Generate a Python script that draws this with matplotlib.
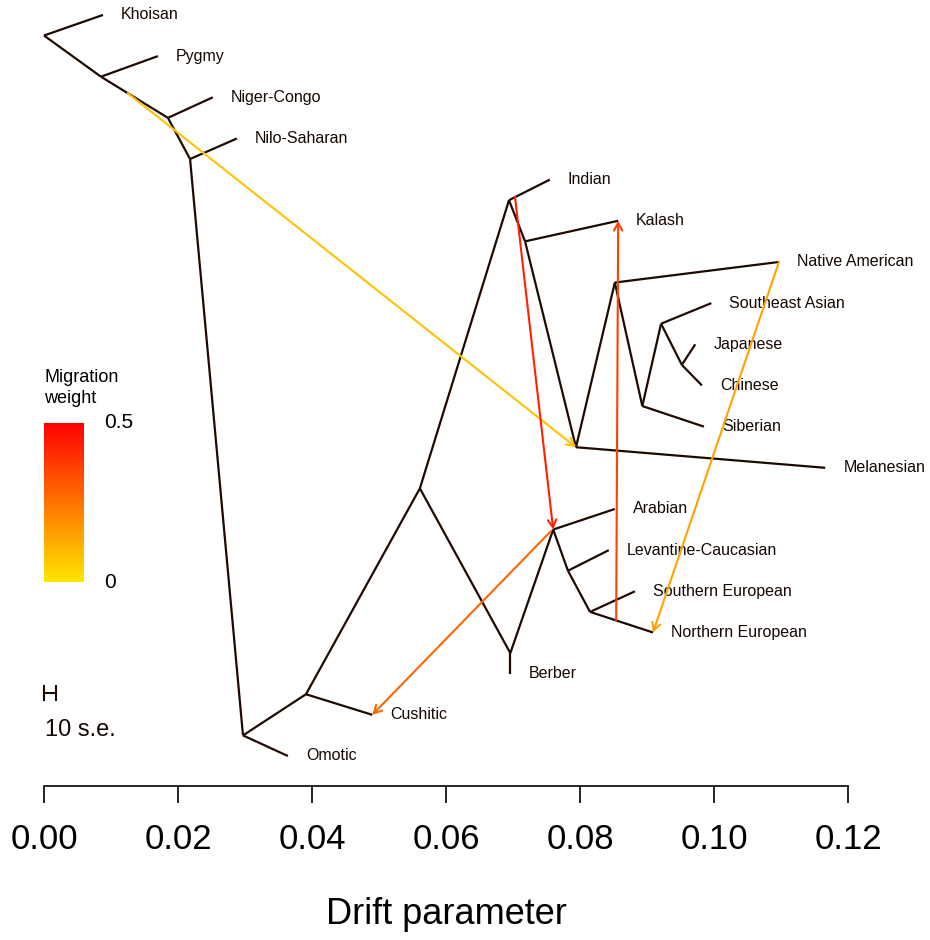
import matplotlib
matplotlib.use('Agg')
import matplotlib.pyplot as plt
import numpy as np
from matplotlib.colors import LinearSegmentedColormap, Normalize
from matplotlib.cm import ScalarMappable

plt.rcParams['font.family'] = ['Liberation Sans', 'DejaVu Sans']

# leaves: drift (x) and vertical rank (y)
leaf_names = ['Khoisan', 'Pygmy', 'Niger-Congo', 'Nilo-Saharan', 'Indian', 'Kalash',
              'Native American', 'Southeast Asian', 'Japanese', 'Chinese', 'Siberian',
              'Melanesian', 'Arabian', 'Levantine-Caucasian', 'Southern European',
              'Northern European', 'Berber', 'Cushitic', 'Omotic']
leaf_drift = [0.0088, 0.0170, 0.0252, 0.0288, 0.0755, 0.0857,
              0.1097, 0.0996, 0.0972, 0.0982, 0.0985,
              0.1166, 0.0852, 0.0843, 0.0882,
              0.0909, 0.0696, 0.0490, 0.0364]
leaf_y = [18, 17, 16, 15, 14, 13, 12, 11, 10, 9, 8, 7, 6, 5, 4, 3, 2, 1, 0]

# internal nodes
node_names = ['root', 'afr1', 'afr2', 'afr3', 'omo', 'cus', 'ooa', 'ber', 'ara',
              'lev', 'eur', 'ind', 'kal', 'mel', 'nam', 'sib', 'sea', 'chn']
node_drift = [0.0, 0.0085, 0.0185, 0.0218, 0.0297, 0.0391, 0.0561, 0.0696, 0.0760,
              0.0782, 0.0815, 0.0694, 0.0718, 0.0794, 0.0852, 0.0893, 0.0921, 0.0952]
node_y = [17.5, 16.5, 15.5, 14.5, 0.5, 1.5, 6.5, 2.5, 5.5,
          4.5, 3.5, 13.5, 12.5, 7.5, 11.5, 8.5, 10.5, 9.5]

edges = [('root', 'Khoisan'), ('root', 'afr1'), ('afr1', 'Pygmy'), ('afr1', 'afr2'),
         ('afr2', 'Niger-Congo'), ('afr2', 'afr3'), ('afr3', 'Nilo-Saharan'), ('afr3', 'omo'),
         ('omo', 'Omotic'), ('omo', 'cus'), ('cus', 'Cushitic'), ('cus', 'ooa'),
         ('ooa', 'ind'), ('ooa', 'ber'), ('ber', 'Berber'), ('ber', 'ara'),
         ('ara', 'Arabian'), ('ara', 'lev'), ('lev', 'Levantine-Caucasian'), ('lev', 'eur'),
         ('eur', 'Southern European'), ('eur', 'Northern European'),
         ('ind', 'Indian'), ('ind', 'kal'), ('kal', 'Kalash'), ('kal', 'mel'),
         ('mel', 'Melanesian'), ('mel', 'nam'), ('nam', 'Native American'), ('nam', 'sib'),
         ('sib', 'Siberian'), ('sib', 'sea'), ('sea', 'Southeast Asian'), ('sea', 'chn'),
         ('chn', 'Japanese'), ('chn', 'Chinese')]

# migration edges
mig_from_x = [0.0125, 0.0703, 0.0854, 0.0757, 0.1097]
mig_from_y = [16.10, 13.58, 3.29, 5.47, 12.0]
mig_to = ['mel', 'ara', 'Kalash', 'Cushitic', 'Northern European']
mig_weight = [0.08, 0.43, 0.36, 0.28, 0.15]

se_bar = 0.0018   # 10 s.e.
xticks = [0.00, 0.02, 0.04, 0.06, 0.08, 0.10, 0.12]

pos = {}
for n, x, y in zip(leaf_names, leaf_drift, leaf_y):
    pos[n] = (x, y)
for n, x, y in zip(node_names, node_drift, node_y):
    pos[n] = (x, y)

branch_col = '#1e0a00'
text_col = '#160800'
cmap = LinearSegmentedColormap.from_list('mig', ['#FFE600', '#FF0000'])
norm = Normalize(0, 0.5)

fig = plt.figure(figsize=(9.3, 9.4), dpi=100)
ax = fig.add_axes([0, 0, 1, 1])
ax.set_xlim(-44 / 6700, 886 / 6700)
ax.set_ylim((756 - 940) / 41.17, 756 / 41.17)

for a, b in edges:
    ax.plot([pos[a][0], pos[b][0]], [pos[a][1], pos[b][1]], color=branch_col,
            lw=1.6, solid_capstyle='butt', zorder=2)

for n in leaf_names:
    ax.annotate(n, pos[n], xytext=(13, 0), textcoords='offset points',
                va='center', ha='left', fontsize=11.5, color=text_col)

for x, y, t, w in zip(mig_from_x, mig_from_y, mig_to, mig_weight):
    ax.annotate('', xy=pos[t], xytext=(x, y),
                arrowprops=dict(arrowstyle='->,head_length=0.55,head_width=0.3',
                                color=cmap(norm(w)), lw=1.5, shrinkA=0, shrinkB=0),
                zorder=3)

# scale bar
sb_y = 1.53
ax.plot([0, se_bar], [sb_y, sb_y], color=branch_col, lw=1.5)
ax.plot([0, 0], [sb_y - 0.17, sb_y + 0.17], color=branch_col, lw=1.5)
ax.plot([se_bar, se_bar], [sb_y - 0.17, sb_y + 0.17], color=branch_col, lw=1.5)
ax.text(0.0002, 0.63, '10 s.e.', fontsize=17, color=text_col, va='center', ha='left')

# axis
for s in ['top', 'right', 'left']:
    ax.spines[s].set_visible(False)
ax.spines['bottom'].set_position(('data', (756 - 786) / 41.17))
ax.spines['bottom'].set_bounds(0, 0.12)
ax.spines['bottom'].set_linewidth(1.2)
ax.set_yticks([])
ax.set_xticks(xticks)
ax.set_xticklabels([f'{v:.2f}' for v in xticks])
ax.tick_params(axis='x', direction='out', length=12.5, width=1.2, pad=14,
               labelsize=25, colors='black')
ax.text(0.06, (756 - 915) / 41.17, 'Drift parameter', fontsize=26, ha='center',
        va='center', color='black')

# colour bar
cax = fig.add_axes([44 / 930, 1 - 582 / 940, 40 / 930, 159 / 940])
cb = fig.colorbar(ScalarMappable(norm=norm, cmap=cmap), cax=cax)
cb.outline.set_visible(False)
cb.set_ticks([])
cax.text(1.5, 1.0, '0.5', transform=cax.transAxes, fontsize=15, va='center', ha='left')
cax.text(1.5, 0.0, '0', transform=cax.transAxes, fontsize=15, va='center', ha='left')
cax.text(0.0, 1.1, 'Migration\nweight', transform=cax.transAxes, fontsize=13,
         va='bottom', ha='left', linespacing=1.3)

fig.savefig('out.png', dpi=100)
